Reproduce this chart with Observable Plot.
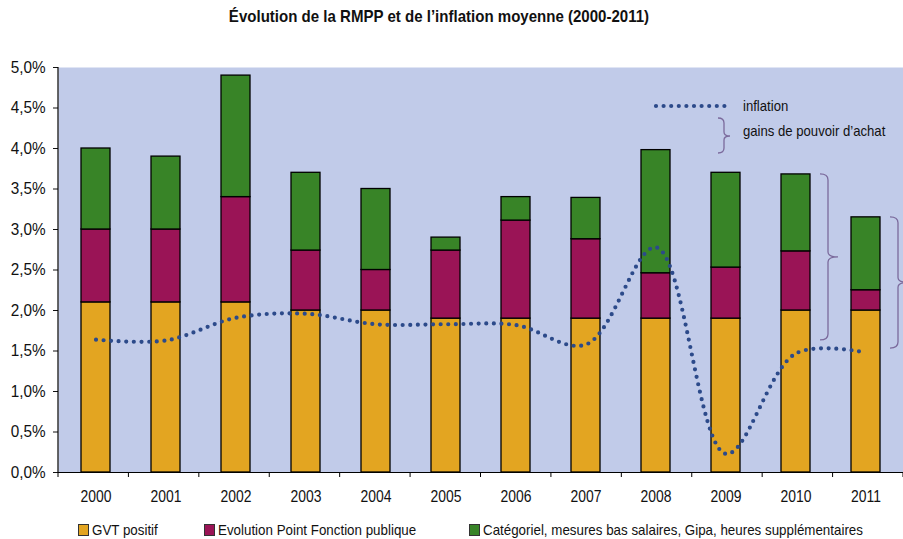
<!DOCTYPE html>
<html><head><meta charset="utf-8">
<script src="https://cdn.jsdelivr.net/npm/d3@7"></script>
<script src="https://cdn.jsdelivr.net/npm/@observablehq/plot@0.6"></script>
<style>
body{margin:0;background:#fff;font-family:"Liberation Sans",Arial,sans-serif;color:#111}
#wrap{position:relative;width:903px;height:539px;overflow:hidden}
#title{position:absolute;top:7px;left:0;width:878px;text-align:center;font-weight:bold;font-size:17px;line-height:20px;transform:scaleX(0.885);transform-origin:439px 0;white-space:nowrap}
#chart{position:absolute;top:40px;left:0}
.item{position:absolute;top:521px;display:flex;align-items:center;font-size:15px;line-height:18px;white-space:nowrap}
.sw{width:9px;height:10px;border:1px solid #333;margin-right:3px;flex:none}
.nt{display:inline-block;transform:scaleX(0.89);transform-origin:0 0}
.tl{position:absolute;font-size:15px;line-height:18px;white-space:nowrap;transform:scaleX(0.875);transform-origin:0 0}
#leg2{position:absolute;left:0;top:0}
</style></head><body>
<div id="wrap">
  <div id="title">Évolution de la RMPP et de l’inflation moyenne (2000-2011)</div>
  <div id="chart"></div>
  <div class="item" style="left:78px"><span class="sw" style="background:#e3a521"></span><span class="nt">GVT positif</span></div>
  <div class="item" style="left:204px"><span class="sw" style="background:#9a1456"></span><span class="nt">Evolution Point Fonction publique</span></div>
  <div class="item" style="left:469px"><span class="sw" style="background:#388427"></span><span class="nt">Catégoriel, mesures bas salaires, Gipa, heures supplémentaires</span></div>
  <svg id="leg2" width="903" height="539" style="pointer-events:none">
    <line x1="656" x2="725" y1="106" y2="106" stroke="#2c4a8a" stroke-width="4.2" stroke-dasharray="0 7.6" stroke-linecap="round"/>
    <path d="M718 118 Q724 118 724 123 L724 132 Q724 136 730 136 Q724 136 724 140 L724 148 Q724 153 718 153" fill="none" stroke="#7b6a9c" stroke-width="1.3"/>
  </svg>
  <div class="tl" style="left:743px;top:97px">inflation</div>
  <div class="tl" style="left:743px;top:122px">gains de pouvoir d’achat</div>
</div>
<script>
const years = ["2000","2001","2002","2003","2004","2005","2006","2007","2008","2009","2010","2011"];
const seriesNames = ["GVT positif","Evolution Point Fonction publique","Catégoriel, mesures bas salaires, Gipa, heures supplémentaires"];
const seriesColors = ["#e3a521","#9a1456","#388427"];
const gvt        = [2.1, 2.1, 2.1, 2.0, 2.0, 1.9, 1.9, 1.9, 1.9, 1.9, 2.0, 2.0];
const pointFP    = [0.9, 0.9, 1.3, 0.74, 0.5, 0.84, 1.21, 0.98, 0.56, 0.63, 0.73, 0.25];
const categoriel = [1.0, 0.9, 1.5, 0.96, 1.0, 0.16, 0.29, 0.51, 1.52, 1.17, 0.95, 0.9];
const inflation  = [1.64, 1.63, 1.91, 1.96, 1.83, 1.83, 1.82, 1.58, 2.78, 0.23, 1.47, 1.48];
const yTicks = [0,0.5,1,1.5,2,2.5,3,3.5,4,4.5,5];
const braceYears  = ["2010","2011"];
const braceTop    = [3.68, 3.15];
const braceBottom = [1.63, 1.53];

const series = [gvt, pointFP, categoriel];
const stackData = [];
years.forEach((yr,i)=>series.forEach((s,k)=>stackData.push({year:yr, series:seriesNames[k], value:s[i]})));
const infl = years.map((yr,i)=>({year:yr, value:inflation[i]}));
const fmt = d => d.toFixed(1).replace(".",",")+"%";

const plot = Plot.plot({
  width:903, height:472, marginTop:27, marginBottom:40, marginLeft:58, marginRight:0,
  style:{fontFamily:'"Liberation Sans",Arial,sans-serif', fontSize:"17px", background:"transparent", color:"#111"},
  x:{domain:years, paddingInner:0.59, paddingOuter:0.295, label:null},
  y:{domain:[0,5], label:null},
  color:{domain:seriesNames, range:seriesColors},
  marks:[
    Plot.frame({fill:"#c1cbe9", stroke:null}),
    Plot.barY(stackData,{x:"year", y:"value", fill:"series", stroke:"#000", strokeWidth:1.3, order:seriesNames}),
    Plot.line(infl,{x:"year", y:"value", curve:"catmull-rom", stroke:"#2c4a8a", strokeWidth:4.2, strokeDasharray:"0 7.6", strokeLinecap:"round"}),
    Plot.ruleY([0],{stroke:"#000", strokeWidth:1.2}),
    Plot.axisY({ticks:yTicks, tickFormat:fmt, tickSize:5, tickPadding:8, fontSize:17, label:null}),
    Plot.axisX({tickSize:0, tickPadding:17, fontSize:17, label:null})
  ]
});
document.getElementById("chart").appendChild(plot);

const xs = plot.scale("x"), ys = plot.scale("y");
const svg = d3.select(plot);
svg.selectAll('[aria-label="y-axis tick label"] text').each(function(){
  const x = +(this.getAttribute("x") || 0);
  const t = this.getAttribute("transform") || "";
  this.setAttribute("transform", `${t} translate(${x},0) scale(0.9,1) translate(${-x},0)`);
});
svg.selectAll('[aria-label="x-axis tick label"] text').each(function(){
  const x = +(this.getAttribute("x") || 0);
  const t = this.getAttribute("transform") || "";
  this.setAttribute("transform", `${t} translate(${x},0) scale(0.82,1) translate(${-x},0)`);
});
const step = (xs.range[1]-xs.range[0]) / years.length;
const bw = xs.bandwidth;
svg.append("line").attr("x1",58).attr("x2",58).attr("y1",ys.apply(5)).attr("y2",ys.apply(0)).attr("stroke","#000").attr("stroke-width",1.2);
for (let i=0;i<=years.length;i++){
  const x = xs.range[0] + i*step;
  svg.append("line").attr("x1",x).attr("x2",x).attr("y1",ys.apply(0)).attr("y2",ys.apply(0)+5).attr("stroke","#000");
}
braceYears.forEach((yr,i)=>{
  const x0 = xs.apply(yr) + bw + 10;
  const yt = ys.apply(braceTop[i]), yb = ys.apply(braceBottom[i]), ym = (yt+yb)/2;
  const xv = x0+8;
  const d = `M${x0} ${yt} Q${xv} ${yt} ${xv} ${yt+6} L${xv} ${ym-5} Q${xv} ${ym} ${xv+10} ${ym} Q${xv} ${ym} ${xv} ${ym+5} L${xv} ${yb-6} Q${xv} ${yb} ${x0} ${yb}`;
  svg.append("path").attr("d",d).attr("fill","none").attr("stroke","#7b6a9c").attr("stroke-width",1.3);
});
</script>
</body></html>
